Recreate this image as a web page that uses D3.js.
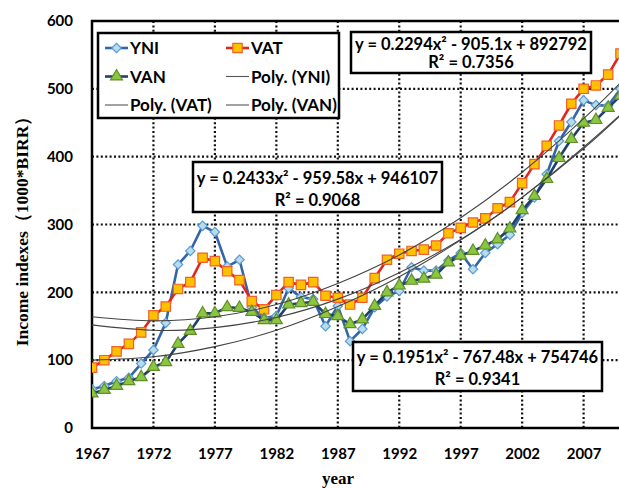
<!DOCTYPE html>
<html>
<head>
<meta charset="utf-8">
<script src="https://cdn.jsdelivr.net/npm/d3@7"></script>
<style>
  body { margin: 0; background: #fff; }
  svg { display: block; }
</style>
</head>
<body>
<script>
var canvasWidth = 619;
var canvasHeight = 488;

// chart data
var years = [1967, 1968, 1969, 1970, 1971, 1972, 1973, 1974, 1975, 1976,
             1977, 1978, 1979, 1980, 1981, 1982, 1983, 1984, 1985, 1986,
             1987, 1988, 1989, 1990, 1991, 1992, 1993, 1994, 1995, 1996,
             1997, 1998, 1999, 2000, 2001, 2002, 2003, 2004, 2005, 2006,
             2007, 2008, 2009, 2010];
var yni = [57, 62, 69, 74, 95, 115, 155, 241, 261, 298,
           289, 238, 248, 178, 162, 165, 206, 193, 190, 150,
           180, 128, 146, 178, 194, 202, 237, 232, 232, 247,
           258, 234, 258, 271, 285, 317, 340, 374, 423, 451,
           483, 476, 475, 500];
var vat = [89, 100, 113, 124, 141, 166, 179, 205, 215, 251,
           246, 231, 218, 187, 175, 196, 215, 211, 215, 195,
           192, 182, 192, 221, 248, 257, 261, 263, 269, 287,
           295, 303, 309, 324, 333, 361, 389, 416, 446, 478,
           500, 505, 521, 552];
var van = [51, 56, 62, 69, 75, 90, 97, 124, 143, 169,
           169, 178, 177, 171, 159, 159, 182, 184, 186, 168,
           165, 153, 160, 180, 200, 210, 217, 220, 226, 244,
           254, 261, 269, 278, 294, 321, 342, 367, 398, 426,
           450, 454, 472, 490];

// "Poly." trend curves at these years
var trendYears = [1967, 1972, 1977, 1982, 1987, 1992, 1997, 2002, 2007, 2010];
var trendYni = [152, 144, 148, 163, 190, 229, 278, 340, 412, 461];
var trendVat = [164, 158, 164, 182, 213, 255, 310, 377, 456, 509];
var trendVan = [100, 105, 120, 144, 179, 223, 277, 340, 414, 462];

var xTicks = [1967, 1972, 1977, 1982, 1987, 1992, 1997, 2002, 2007];
var yTicks = [0, 100, 200, 300, 400, 500, 600];
var eqLines = ["y = 0.2294x\u00b2 - 905.1x + 892792",
               "y = 0.2433x\u00b2 - 959.58x + 946107",
               "y = 0.1951x\u00b2 - 767.48x + 754746"];
var r2Lines = ["R\u00b2 = 0.7356", "R\u00b2 = 0.9068", "R\u00b2 = 0.9341"];

var plot = { left: 92, top: 21, bottom: 428 };
var pxPerYear = 12.29;

var svg = d3.select("body").append("svg")
    .attr("width", canvasWidth)
    .attr("height", canvasHeight);

var xScale = d3.scaleLinear().domain([1967, 2010]).range([plot.left, plot.left + 43 * pxPerYear]);
var yScale = d3.scaleLinear().domain([0, 600]).range([plot.bottom, plot.top]);

var sansBold = "Lato, 'Open Sans', sans-serif";
var serifBold = "'Liberation Serif', 'DejaVu Serif', serif";

// Dotted gridlines
var grid = svg.append("g");
grid.selectAll("line.h").data(yTicks.filter(d => d > 0 && d < 600))
    .enter().append("line")
    .attr("x1", plot.left).attr("x2", canvasWidth + 10)
    .attr("y1", d => yScale(d)).attr("y2", d => yScale(d))
    .attr("stroke", "#111").attr("stroke-width", 2.2).attr("stroke-dasharray", "2,2.4");
grid.selectAll("line.v").data(xTicks.filter(d => d > 1967))
    .enter().append("line")
    .attr("x1", d => xScale(d)).attr("x2", d => xScale(d))
    .attr("y1", plot.top).attr("y2", plot.bottom)
    .attr("stroke", "#111").attr("stroke-width", 2.2).attr("stroke-dasharray", "2,2.4");

// Plot frame (right side is cut off in the picture)
svg.append("path")
    .attr("d", "M" + (canvasWidth + 10) + "," + plot.top + "H" + plot.left + "V" + plot.bottom + "H" + (canvasWidth + 10))
    .attr("fill", "none").attr("stroke", "#000").attr("stroke-width", 2.5);

// Axes
var xAxis = svg.append("g")
    .attr("transform", "translate(0," + plot.bottom + ")")
    .call(d3.axisBottom(xScale).tickValues(xTicks).tickFormat(d3.format("d")).tickSize(0).tickPadding(20));
var yAxis = svg.append("g")
    .attr("transform", "translate(" + plot.left + ",0)")
    .call(d3.axisLeft(yScale).tickValues(yTicks).tickSize(0).tickPadding(19));
[xAxis, yAxis].forEach(function(ax) {
    ax.select(".domain").remove();
    ax.selectAll("text")
        .attr("font-family", sansBold)
        .attr("font-weight", "bold")
        .attr("font-size", "15px")
        .attr("fill", "#000");
});

svg.append("text")
    .attr("x", 338).attr("y", 484)
    .attr("text-anchor", "middle")
    .attr("font-family", serifBold).attr("font-weight", "bold").attr("font-size", "17px")
    .text("year");
svg.append("text")
    .attr("transform", "translate(28,227) rotate(-90)")
    .attr("text-anchor", "middle")
    .attr("font-family", serifBold).attr("font-weight", "bold").attr("font-size", "17.5px")
    .text("Income indexes\uff081000*BIRR\uff09");

svg.append("clipPath").attr("id", "plotclip")
    .append("rect").attr("x", plot.left).attr("y", plot.top)
    .attr("width", canvasWidth - plot.left + 10).attr("height", plot.bottom - plot.top);

var plotG = svg.append("g").attr("clip-path", "url(#plotclip)");

var series = [
    { name: "YNI", values: yni, trend: trendYni, line: "#3366a8", fill: "#b9dcea", stroke: "#5b9bd5", shape: "diamond", size: 44 },
    { name: "VAT", values: vat, trend: trendVat, line: "#e3261c", fill: "#ffc000", stroke: "#f0602a", shape: "square", size: 88 },
    { name: "VAN", values: van, trend: trendVan, line: "#1f3f6e", fill: "#8cc641", stroke: "#5f8f2a", shape: "triangle", size: 62 }
];

function symbolPath(s) {
    var type = s.shape === "triangle" ? d3.symbolTriangle : d3.symbolSquare;
    return d3.symbol().type(type).size(s.size)();
}
function symbolTransform(s, x, y) {
    return "translate(" + x + "," + y + ")" + (s.shape === "diamond" ? " rotate(45)" : "");
}

var line = d3.line().x(d => xScale(d[0])).y(d => yScale(d[1]));

series.forEach(function(s) {
    var pts = years.map((y, i) => [y, s.values[i]]);
    plotG.append("path")
        .datum(pts)
        .attr("d", line)
        .attr("fill", "none")
        .attr("stroke", s.line)
        .attr("stroke-width", 2.6)
        .attr("stroke-linejoin", "round");
    plotG.selectAll(null).data(pts)
        .enter().append("path")
        .attr("d", symbolPath(s))
        .attr("transform", d => symbolTransform(s, xScale(d[0]), yScale(d[1])))
        .attr("fill", s.fill)
        .attr("stroke", s.stroke)
        .attr("stroke-width", 1.2);
});

// Trend lines
var trendLine = d3.line().curve(d3.curveNatural).x(d => xScale(d[0])).y(d => yScale(d[1]));
series.forEach(function(s) {
    plotG.append("path")
        .datum(trendYears.map((y, i) => [y, s.trend[i]]))
        .attr("d", trendLine)
        .attr("fill", "none")
        .attr("stroke", "#444")
        .attr("stroke-width", 1.1);
});

// Equation boxes
var boxes = [
    { x: 351, y: 32, w: 240, h: 41 },
    { x: 193, y: 162, w: 249, h: 50 },
    { x: 353, y: 342, w: 249, h: 49 }
];
boxes.forEach(function(b, i) {
    var g = svg.append("g");
    g.append("rect")
        .attr("x", b.x).attr("y", b.y).attr("width", b.w).attr("height", b.h)
        .attr("fill", "#fff").attr("stroke", "#000").attr("stroke-width", 2.5);
    g.append("text")
        .attr("x", b.x + b.w / 2).attr("y", b.y + b.h * 0.43)
        .attr("text-anchor", "middle")
        .attr("font-family", sansBold).attr("font-weight", "bold").attr("font-size", "16.5px")
        .text(eqLines[i]);
    g.append("text")
        .attr("x", b.x + b.w / 2).attr("y", b.y + b.h * 0.87)
        .attr("text-anchor", "middle")
        .attr("font-family", sansBold).attr("font-weight", "bold").attr("font-size", "16.5px")
        .text(r2Lines[i]);
});

// Legend
var legend = svg.append("g");
legend.append("rect")
    .attr("x", 98).attr("y", 33).attr("width", 241).attr("height", 85)
    .attr("fill", "#fff").attr("stroke", "#000").attr("stroke-width", 2.5);
var legendItems = [
    { label: "YNI", s: series[0], col: 0, row: 0 },
    { label: "VAT", s: series[1], col: 1, row: 0 },
    { label: "VAN", s: series[2], col: 0, row: 1 },
    { label: "Poly. (YNI)", s: null, col: 1, row: 1 },
    { label: "Poly. (VAT)", s: null, col: 0, row: 2 },
    { label: "Poly. (VAN)", s: null, col: 1, row: 2 }
];
legendItems.forEach(function(it) {
    var lx = it.col === 0 ? 105 : 226;
    var ly = 48 + it.row * 28.5;
    legend.append("line")
        .attr("x1", lx).attr("x2", lx + 23).attr("y1", ly).attr("y2", ly)
        .attr("stroke", it.s ? it.s.line : "#555")
        .attr("stroke-width", it.s ? 2.6 : 1.1);
    if (it.s) {
        legend.append("path")
            .attr("d", symbolPath(it.s))
            .attr("transform", symbolTransform(it.s, lx + 11.5, ly))
            .attr("fill", it.s.fill).attr("stroke", it.s.stroke).attr("stroke-width", 1.2);
    }
    legend.append("text")
        .attr("x", lx + 25).attr("y", ly + 6)
        .attr("font-family", sansBold).attr("font-weight", "bold").attr("font-size", "17px")
        .text(it.label);
});
</script>
</body>
</html>
